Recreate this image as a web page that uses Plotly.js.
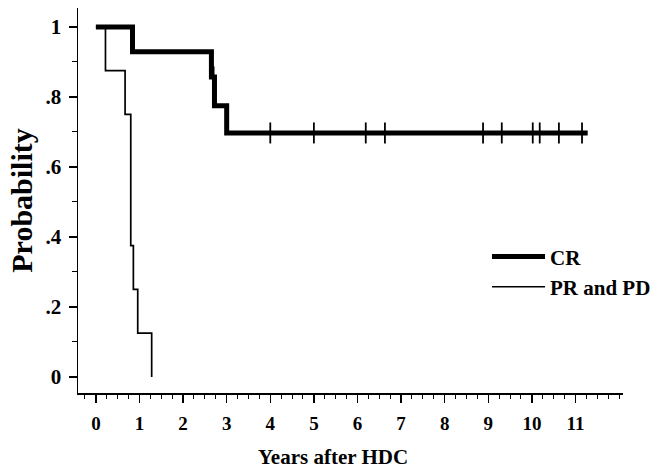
<!DOCTYPE html>
<html>
<head>
<meta charset="utf-8">
<script src="https://cdn.plot.ly/plotly-3.0.1.min.js"></script>
<style>html,body{margin:0;padding:0;background:#fff;}#chart{width:665px;height:470px;}</style>
</head>
<body>
<div id="chart"></div>
<script>
// Kaplan-Meier step data
var crTimes = [0, 0.84, 2.65, 2.72, 3.0, 11.28];
var crSurv  = [1, 0.929, 0.857, 0.775, 0.697, 0.697];
var crCensorTimes = [2.70, 4.0, 5.0, 6.19, 6.63, 8.88, 9.31, 10.02, 10.18, 10.62, 11.15];
var crCensorSurv  = [0.857, 0.697, 0.697, 0.697, 0.697, 0.697, 0.697, 0.697, 0.697, 0.697, 0.697];

var prTimes = [0, 0.22, 0.67, 0.80, 0.86, 0.96, 1.28];
var prSurv  = [1, 0.875, 0.75, 0.375, 0.25, 0.125, 0];

var xTickVals = [0,1,2,3,4,5,6,7,8,9,10,11];
var xTickText = ['0','1','2','3','4','5','6','7','8','9','10','11'];
var yTickVals = [0, 0.2, 0.4, 0.6, 0.8, 1];
var yTickText = ['0', '.2', '.4', '.6', '.8', '1'];

var fontFam = 'Liberation Serif, Times New Roman, serif';

var traces = [
  {x: prTimes, y: prSurv, mode: 'lines', line: {shape: 'hv', color: '#000', width: 1.7},
   name: 'PR and PD', showlegend: true},
  {x: crTimes, y: crSurv, mode: 'lines', line: {shape: 'hv', color: '#000', width: 5},
   name: 'CR', showlegend: true},
  {x: crCensorTimes, y: crCensorSurv, mode: 'markers',
   marker: {symbol: 'line-ns', size: 15, line: {width: 1.8, color: '#000'}},
   showlegend: false, hoverinfo: 'skip'}
];

var layout = {
  width: 665, height: 470,
  margin: {l: 78, r: 42, t: 8, b: 77},
  paper_bgcolor: '#fff', plot_bgcolor: '#fff',
  font: {family: fontFam, color: '#000'},
  showlegend: true,
  legend: {
    x: (487 - 78) / 545, y: 0.407, xanchor: 'left', yanchor: 'top',
    traceorder: 'reversed',
    font: {family: fontFam, size: 21, color: '#000', weight: 'bold'},
    bgcolor: 'rgba(0,0,0,0)', itemwidth: 53, tracegroupgap: 0
  },
  xaxis: {
    range: [-0.41, 12.09],
    tickmode: 'array', tickvals: xTickVals, ticktext: xTickText,
    ticks: 'outside', ticklen: 8, tickwidth: 1.3, tickcolor: '#000',
    ticklabelstandoff: 5,
    minor: {tickmode: 'linear', tick0: 0, dtick: 0.25, ticks: 'outside', ticklen: 4, tickwidth: 1, tickcolor: '#000', showgrid: false},
    showline: true, linecolor: '#000', linewidth: 1.5,
    showgrid: false, zeroline: false,
    tickfont: {family: fontFam, size: 19, color: '#000', weight: 'bold'}
  },
  yaxis: {
    range: [-0.046, 1.054],
    tickmode: 'array', tickvals: yTickVals, ticktext: yTickText,
    ticks: 'outside', ticklen: 8, tickwidth: 1.3, tickcolor: '#000',
    ticklabelstandoff: 3,
    minor: {tickmode: 'linear', tick0: 0, dtick: 0.1, ticks: 'outside', ticklen: 5, tickwidth: 1, tickcolor: '#000', showgrid: false},
    showline: true, linecolor: '#000', linewidth: 1.5,
    showgrid: false, zeroline: false,
    tickfont: {family: fontFam, size: 21, color: '#000', weight: 'bold'},
    title: {text: 'Probability', standoff: 4, font: {family: fontFam, size: 30, color: '#000', weight: 'bold'}}
  },
  annotations: [
    {text: 'Years after HDC', xref: 'paper', yref: 'paper', x: (333 - 78) / 545, y: -0.165,
     xanchor: 'center', yanchor: 'middle', showarrow: false,
     font: {family: fontFam, size: 21, color: '#000', weight: 'bold'}}
  ]
};

Plotly.newPlot('chart', traces, layout, {displayModeBar: false, staticPlot: true});
</script>
</body>
</html>
